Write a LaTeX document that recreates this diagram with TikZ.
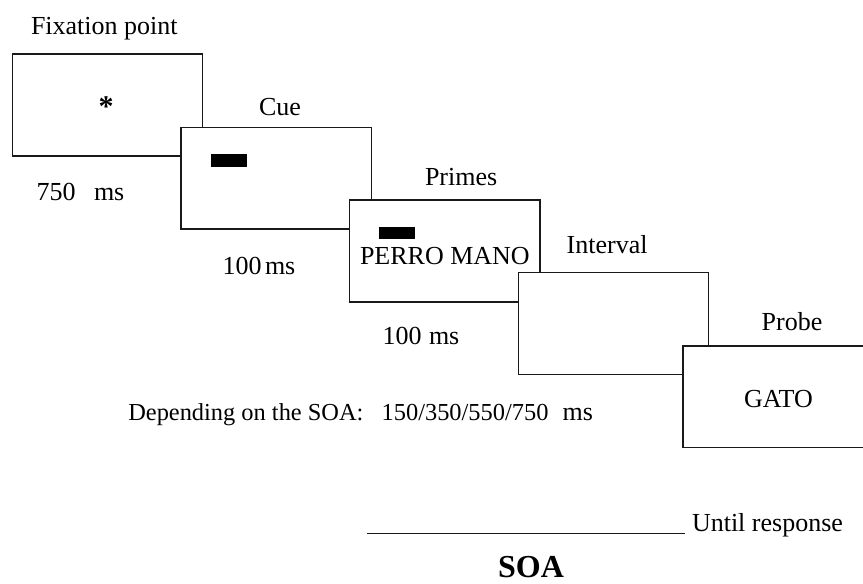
\documentclass[tikz,border=0pt]{standalone}
\usepackage{fontspec}
\setmainfont{Liberation Serif}
\begin{document}
\begin{tikzpicture}[x=1pt,y=-1pt,
  screen/.style={draw=black!90,line width=1.5pt,fill=white,minimum width=190.4pt,minimum height=101.6pt,inner sep=0pt,outer sep=0pt},
  lbl/.style={anchor=base west,inner sep=0pt,outer sep=0pt,font=\fontsize{26}{30}\selectfont},
  lbls/.style={anchor=base west,inner sep=0pt,outer sep=0pt,font=\fontsize{24.4}{28}\selectfont},
  bar/.style={fill=black,draw=none}]
\useasboundingbox (0,0) rectangle (863,584);
\clip (0,0) rectangle (863,584);
% screens
\node[screen] (b1) at (107.5,105) {};
\node[screen] (b2) at (276.2,178.2) {};
\node[screen] (b3) at (444.8,251) {};
\node[screen] (b4) at (613.5,323.5) {};
\node[screen] (b5) at (778,396.7) {};
% contents
\node[inner sep=0pt,font=\fontsize{30}{30}\selectfont\bfseries] (ast) at (106,107) {*};
\fill[bar] (210.7,154) rectangle (246.7,166.7);
\fill[bar] (379.3,226.7) rectangle (415,239.3);
\node[lbl] (perro) at (360,264) {PERRO MANO};
\node[lbl] (gato) at (744,407.3) {GATO};
% titles
\node[lbl] (t1) at (31,34.3) {Fixation point};
\node[lbl] (t2) at (259,115) {Cue};
\node[lbl] (t3) at (425,185.7) {Primes};
\node[lbl] (t4) at (566.7,253) {Interval};
\node[lbl] (t5) at (761.7,330.7) {Probe};
% durations
\node[lbl] (d1a) at (36.7,200) {750};
\node[lbl] (d1b) at (94,200) {ms};
\node[lbl] (d2a) at (222.7,274) {100};
\node[lbl] (d2b) at (265,274) {ms};
\node[lbl] (d3a) at (382.7,344) {100};
\node[lbl] (d3b) at (429,344) {ms};
\node[lbls] (dep) at (128.3,420) {Depending on the SOA:};
\node[lbls] (depn) at (381.7,420) {150/350/550/750};
\node[lbl] (depm) at (562.7,420) {ms};
% SOA line
\coordinate (l1) at (366.7,533.3);
\coordinate (l2) at (685,533.3);
\draw[line width=1.5pt,black!90] (l1) -- (l2);
\node[lbl] (until) at (692,531) {Until response};
\node[anchor=base west,inner sep=0pt,font=\fontsize{32}{36}\selectfont\bfseries] (soa) at (498,577.5) {SOA};
\end{tikzpicture}
\end{document}
